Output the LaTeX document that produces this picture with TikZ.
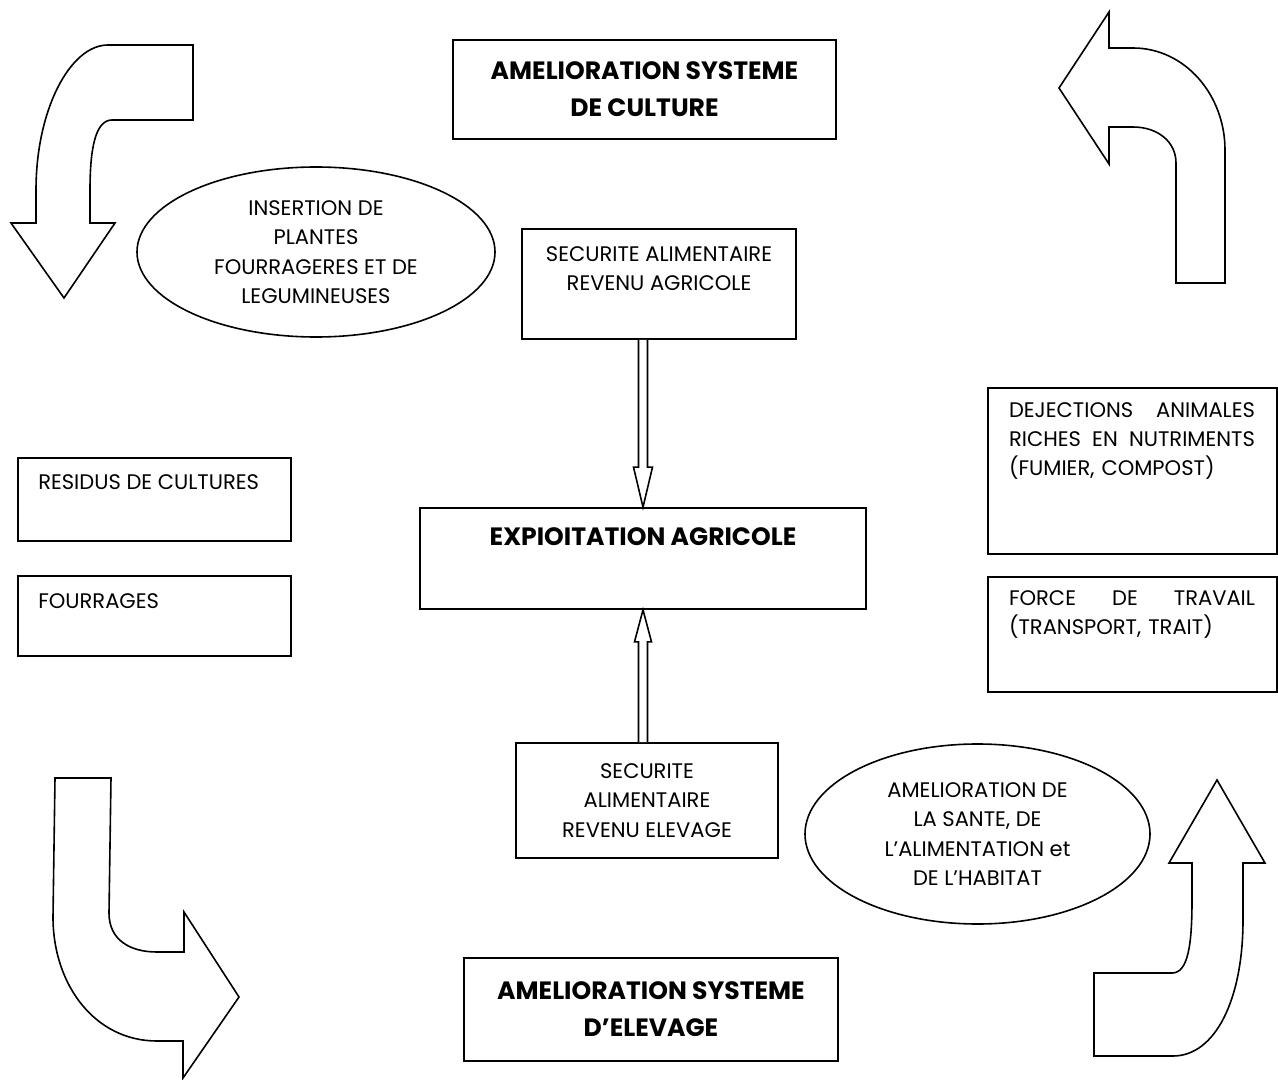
\documentclass[tikz,border=0pt]{standalone}
\usepackage{fontspec}
\setmainfont{Poppins}
\usetikzlibrary{shapes.geometric,calc}
\begin{document}
\begin{tikzpicture}[x=0.75pt,y=-0.75pt,
  box/.style={draw=black,line width=1.3pt,rectangle,inner sep=0pt,fill=white},
  oval/.style={draw=black,line width=1.2pt,ellipse,inner sep=0pt,align=center,font=\normtxt},
  bigarrow/.style={draw=black,line width=1.2pt,line join=miter,fill=white},
  hollow/.style={draw=black,line width=1.2pt,line join=miter,fill=white},
  normtext/.style={inner sep=0pt,align=center,font=\normtxt},
  boldtext/.style={inner sep=0pt,align=center,font=\boldtxt}
]
\newcommand{\normtxt}{\fontsize{15.8}{22.1}\selectfont}
\newcommand{\boldtxt}{\fontsize{18.8}{27.75}\selectfont\bfseries}
\useasboundingbox (0,0) rectangle (1278,1080);

% curved arrows
\draw[bigarrow] (108,45) -- (193,45) -- (193,120) -- (112,120)
  .. controls (95,120) and (90,150) .. (90,190) -- (90,223) -- (115,223)
  -- (64,298) -- (11,223) -- (36,223) -- (36,190)
  .. controls (36,110) and (70,45) .. (108,45) -- cycle;
\draw[bigarrow] (1059,88) -- (1109,12) -- (1109,48) -- (1133,48)
  .. controls (1185,48) and (1225,95) .. (1225,150) -- (1225,283) -- (1176,283)
  -- (1176,163) .. controls (1176,142) and (1158,127) .. (1133,127)
  -- (1109,127) -- (1109,164) -- cycle;
\draw[bigarrow] (55,778) -- (111,778) -- (109,913)
  .. controls (109,940) and (130,952) .. (157,952) -- (184,952) -- (184,912)
  -- (239,997) -- (183,1078) -- (183,1041) -- (157,1041)
  .. controls (95,1041) and (53,985) .. (53,917) -- cycle;
\draw[bigarrow] (1217,780) -- (1265,863) -- (1243,863) -- (1243,920)
  .. controls (1243,1000) and (1215,1056) .. (1173,1056) -- (1094,1056)
  -- (1094,973) -- (1172,973) .. controls (1188,973) and (1192,945) .. (1192,900)
  -- (1192,863) -- (1169,863) -- cycle;

% boxes
\node[box,minimum width=287.25pt,minimum height=74.25pt,align=center,font=\boldtxt] (culture) at (644.5,89.5) {AMELIORATION SYSTEME\\DE CULTURE};
\node[box,minimum width=205.5pt,minimum height=82.5pt] (sa) at (659,284) {};
\node[normtext] (satext) at (659,268.5) {SECURITE ALIMENTAIRE\\REVENU AGRICOLE};
\node[oval,minimum width=268.5pt,minimum height=127.5pt] (insertion) at (316,252) {INSERTION DE\\PLANTES\\FOURRAGERES ET DE\\LEGUMINEUSES};
\node[box,minimum width=204.75pt,minimum height=62.25pt] (residus) at (154.5,499.5) {};
\node[normtext,anchor=west] (residustext) at (38,482) {RESIDUS DE CULTURES};
\node[box,minimum width=204.75pt,minimum height=60pt] (fourrages) at (154.5,616) {};
\node[normtext,anchor=west] (fourragestext) at (38,601) {FOURRAGES};
\node[box,minimum width=334.5pt,minimum height=75.75pt] (ea) at (643,558.5) {};
\node[boldtext] (eatext) at (643,537) {EXPIOITATION AGRICOLE};
\node[box,minimum width=196.5pt,minimum height=86.25pt,align=center,font=\normtxt] (se) at (647,800.5) {SECURITE\\ALIMENTAIRE\\REVENU ELEVAGE};
\node[oval,minimum width=258.75pt,minimum height=135pt] (sante) at (977.5,834) {AMELIORATION DE\\LA SANTE, DE\\L’ALIMENTATION et\\DE L’HABITAT};
\node[box,minimum width=280.5pt,minimum height=77.25pt,align=center,font=\boldtxt] (elevage) at (651,1009.5) {AMELIORATION SYSTEME\\D’ELEVAGE};
\node[box,minimum width=216.75pt,minimum height=124.5pt] (dej) at (1132.5,471) {};
\node[normtext,text width=184.5pt,align=left] (dejtext) at (1132,441) {DEJECTIONS\hfill ANIMALES\\RICHES\hfill EN\hfill NUTRIMENTS\\(FUMIER, COMPOST)};
\node[box,minimum width=216.75pt,minimum height=86.25pt] (force) at (1132.5,634.5) {};
\node[normtext,text width=184.5pt,align=left] (forcetext) at (1132,614.5) {FORCE\hfill DE\hfill TRAVAIL\\(TRANSPORT, TRAIT)};

% hollow double arrows
\draw[hollow] ($(sa.south -| ea.north)+(-4.5,0)$) -- ($(ea.north)+(-4.5,-40)$)
  -- ($(ea.north)+(-9.5,-40)$) -- (ea.north) -- ($(ea.north)+(9.5,-40)$)
  -- ($(ea.north)+(4.5,-40)$) -- ($(sa.south -| ea.north)+(4.5,0)$);
\draw[hollow] ($(se.north -| ea.south)+(-4.5,0)$) -- ($(ea.south)+(-4.5,32)$)
  -- ($(ea.south)+(-8.5,32)$) -- (ea.south) -- ($(ea.south)+(8.5,32)$)
  -- ($(ea.south)+(4.5,32)$) -- ($(se.north -| ea.south)+(4.5,0)$);
\end{tikzpicture}
\end{document}
